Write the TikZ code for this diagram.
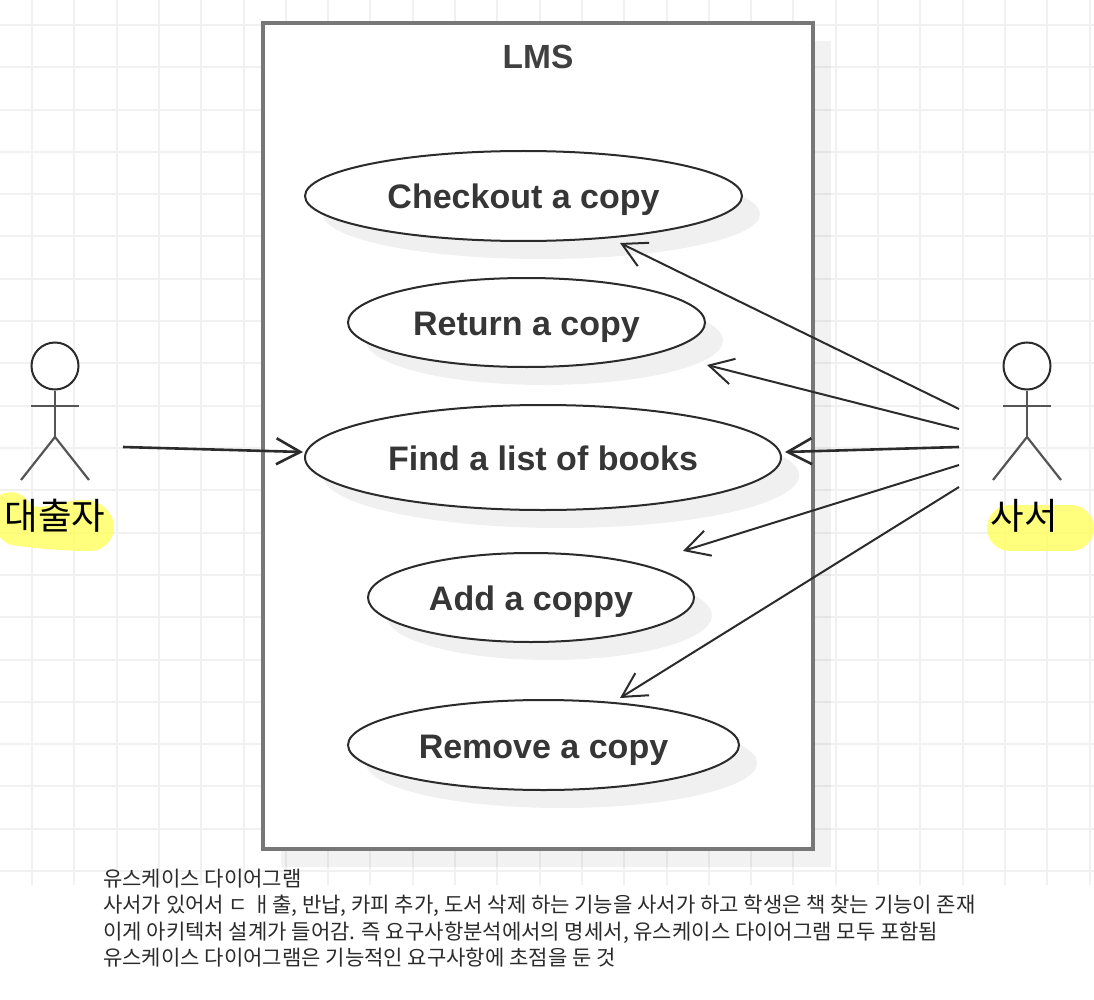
\documentclass[tikz,border=0pt]{standalone}
\usepackage{fontspec}
\setmainfont{Liberation Sans}
\newfontfamily\cjk{Noto Sans CJK KR}
\usetikzlibrary{arrows.meta, shapes.geometric, shadows}
\definecolor{gridgray}{HTML}{F1F1F1}
\definecolor{framegray}{HTML}{777777}
\definecolor{inkdark}{HTML}{2B2B2B}
\definecolor{marker}{HTML}{FFFF66}
\tikzset{
  usecase/.style={ellipse, draw=inkdark, line width=2pt, fill=white, inner sep=0pt,
    font=\fontsize{34}{34}\selectfont\bfseries, text=inkdark!95,
    text depth=0pt, text height=26pt,
    drop shadow={shadow xshift=18pt, shadow yshift=-18pt, fill=black, opacity=0.06}},
  actorhead/.style={circle, draw=inkdark, line width=2pt, fill=white, inner sep=0pt, minimum size=47pt},
  actorline/.style={draw=inkdark!80, line width=2.2pt},
  assoc/.style={draw=inkdark, line width=2pt, ->, >={Straight Barb[length=24pt, width=26pt]}},
  assocmain/.style={assoc, line width=2.6pt}
}
\begin{document}
\begin{tikzpicture}[x=1pt, y=-1pt]
  \useasboundingbox (0,0) rectangle (1094,1000);

  % Background grid
  \foreach \k in {0,...,25}
      \draw[gridgray, line width=2pt] ({32+42.3*\k},0) -- ({32+42.3*\k},885);
  \foreach \k in {0,...,20}
      \draw[gridgray, line width=2pt] (0,{25+42.3*\k}) -- (1094,{25+42.3*\k});

  % System boundary
  \node[rectangle, draw=framegray, line width=3.5pt, fill=white, minimum width=550pt, minimum height=826pt,
    inner sep=0pt, drop shadow={shadow xshift=18pt, shadow yshift=-18pt, fill=black, opacity=0.05}]
    (lms) at (538,436) {};
  \node[font=\fontsize{33.5}{33.5}\selectfont\bfseries, text=inkdark!90] (lms-title) at (538,57) {LMS};

  % Use cases
  \node[usecase, minimum width=437pt, minimum height=90pt] (checkout) at (523.5,196) {Checkout a copy};
  \node[usecase, minimum width=357pt, minimum height=89pt] (return) at (526.5,322.5) {Return a copy};
  \node[usecase, minimum width=476pt, minimum height=105pt] (find) at (543,457.5) {Find a list of books};
  \node[usecase, minimum width=326pt, minimum height=89pt] (add) at (531,597.5) {Add a coppy};
  \node[usecase, minimum width=391pt, minimum height=90pt] (remove) at (543.5,745) {Remove a copy};

  % Marker highlights
  \fill[marker, opacity=0.85] (0,495) .. controls (15,488) and (25,495) .. (32,506)
      .. controls (55,510) and (80,492) .. (100,504) .. controls (118,515) and (120,540) .. (98,550)
      .. controls (85,553) and (30,548) .. (12,545) .. controls (5,543) and (2,540) .. (0,537) -- cycle;
  \draw[marker, opacity=0.85, line width=46pt, line cap=round] (1010,528) -- (1071,528);

  % Actors
  \foreach \name/\cx in {borrower/55, librarian/1027} {
      \node[actorhead] (\name-head) at (\cx,366) {};
      \coordinate (\name-hip) at (\cx,437);
      \coordinate (\name-larm) at (\cx-24,406);
      \coordinate (\name-rarm) at (\cx+24,406);
      \coordinate (\name-lfoot) at (\cx-34,480);
      \coordinate (\name-rfoot) at (\cx+34,480);
      \draw[actorline] (\name-head) -- (\name-hip);
      \draw[actorline] (\name-larm) -- (\name-rarm);
      \draw[actorline] (\name-lfoot) -- (\name-hip) -- (\name-rfoot);
  }
  \node[font=\cjk\fontsize{36.5}{36.5}\selectfont, text=black] (borrower-label) at (55,516) {대출자};
  \node[font=\cjk\fontsize{36.5}{36.5}\selectfont, text=black] (librarian-label) at (1024,516) {사서};

  % Arrow ends
  \coordinate (borrower-out) at (123,447);
  \coordinate (find-in) at (303,452);
  \coordinate (find-right) at (785,452);
  \coordinate (checkout-in) at (620,243);
  \coordinate (return-in) at (707,365);
  \coordinate (add-in) at (683,551);
  \coordinate (remove-in) at (620,698);
  \coordinate (lib-1) at (959,409);
  \coordinate (lib-2) at (959,429);
  \coordinate (lib-3) at (959,447);
  \coordinate (lib-4) at (959,465);
  \coordinate (lib-5) at (959,487);

  % Associations
  \draw[assocmain] (borrower-out) -- (find-in);
  \draw[assocmain] (lib-3) -- (find-right);
  \foreach \from/\to in {lib-1/checkout-in, lib-2/return-in, lib-4/add-in, lib-5/remove-in}
      \draw[assoc] (\from) -- (\to);

  % Notes
  \node[anchor=north west, inner sep=0pt, align=left, text=inkdark,
    font=\cjk\fontsize{21.05}{26.3}\selectfont] (notes) at (103,869) {유스케이스 다이어그램\\
    사서가 있어서 ㄷ ㅐ출, 반납, 카피 추가, 도서 삭제 하는 기능을 사서가 하고 학생은 책 찾는 기능이 존재\\
    이게 아키텍처 설계가 들어감. 즉 요구사항분석에서의 명세서, 유스케이스 다이어그램 모두 포함됨\\
    유스케이스 다이어그램은 기능적인 요구사항에 초점을 둔 것};
\end{tikzpicture}
\end{document}
